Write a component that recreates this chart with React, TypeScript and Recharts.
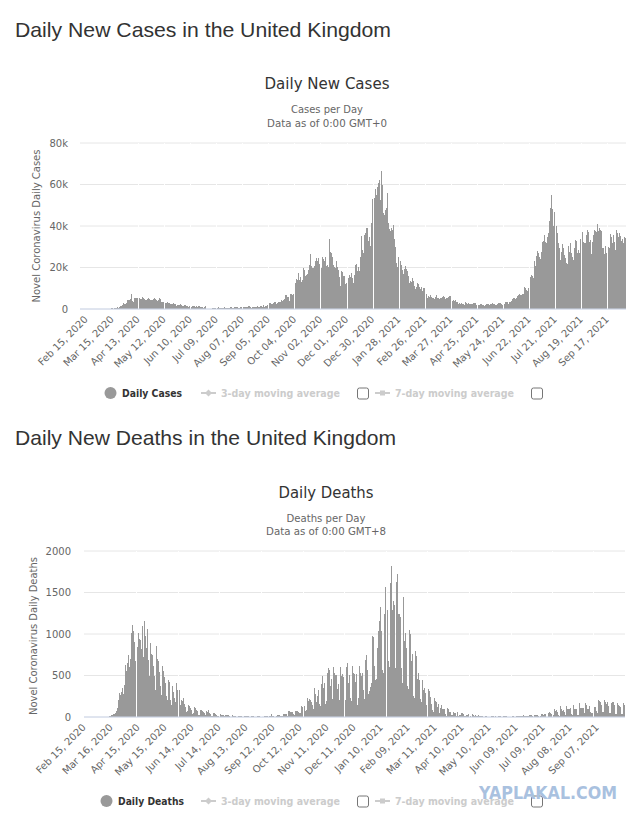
import React from "react";
import { BarChart, Bar, XAxis, YAxis, CartesianGrid, ReferenceLine } from "recharts";

const MONTHS = ["Jan", "Feb", "Mar", "Apr", "May", "Jun", "Jul", "Aug", "Sep", "Oct", "Nov", "Dec"];
const FIRST_DAY_UTC = Date.UTC(2020, 1, 15);

// Daily new cases (thousands), Feb 15 2020 .. Oct 07 2021, one line per month
const newCasesK: number[] = [
  0, 0, 0, 0, 0, 0, 0, 0, 0, 0, 0, 0, 0, 0, 0,
  0.01, 0, 0.01, 0.03, 0.03, 0.05, 0.05, 0.07, 0.04, 0.06, 0.08, 0.13, 0.21, 0.34, 0.25, 0.15, 0.41, 0.68, 0.64, 0.71, 1.0, 0.67, 0.97, 1.4, 1.5, 2.1, 2.9, 2.5, 2.4, 2.6, 3.0,
  4.3, 4.2, 4.5, 4.8, 7.2, 3.8, 3.6, 5.5, 4.3, 5.2, 5.2, 5.3, 4.3, 5.3, 4.6, 4.6, 5.6, 5.5, 5.9, 4.7, 4.3, 4.5, 4.6, 5.4, 4.9, 4.5, 4.3, 4.0, 4.1, 5.0,
  5.5, 4.8, 4.3, 4.0, 4.2, 5.2, 4.6, 4.2, 3.6, 3.5, 3.3, 3.0, 2.8, 3.0, 3.2, 3.1, 3.0, 2.5, 2.3, 2.4, 2.5, 2.9, 2.6, 2.2, 1.6, 1.9, 1.9, 1.8, 2.0, 2.2, 1.8,
  1.5, 1.6, 1.8, 1.7, 1.6, 1.5, 1.3, 1.2, 1.4, 1.0, 1.2, 1.5, 1.4, 1.5, 1.1, 1.3, 1.1, 1.2, 1.3, 1.3, 1.2, 1.0, 0.9, 0.7, 1.1, 1.4, 0.9, 0, 0, 0,
  0, 0, 0, 0.6, 0.5, 0.6, 0.4, 0.6, 0.6, 0.5, 0.8, 0.6, 0.5, 0.5, 0.5, 0.6, 0.7, 0.8, 0.6, 0.6, 0.4, 0.6, 0.7, 0.8, 0.8, 0.7, 0.7, 0.6, 0.8, 0.9, 0.8,
  0.8, 0.7, 0.7, 0.9, 0.9, 0.9, 0.9, 0.9, 1.1, 0.8, 1.1, 1.0, 1.4, 1.4, 1.0, 1.0, 0.7, 1.1, 0.8, 1.2, 1.0, 1.0, 1.3, 0.8, 1.2, 1.0, 1.3, 1.3, 1.1, 1.7, 1.0,
  1.3, 1.3, 1.7, 1.8, 1.9, 2.9, 3.0, 2.5, 2.5, 2.7, 3.5, 3.5, 3.5, 2.6, 3.1, 3.4, 3.4, 3.4, 4.3, 3.9, 4.4, 4.9, 6.2, 6.6, 6.9, 6.0, 5.7, 4.0, 7.1, 7.1,
  6.9, 7.0, 12.9, 16.0, 12.6, 14.5, 14.2, 17.5, 13.9, 15.2, 12.9, 14.0, 17.2, 19.7, 19.0, 15.7, 16.2, 16.9, 18.8, 21.3, 26.7, 20.5, 23.0, 19.8, 19.8, 20.9, 22.9, 24.7, 23.1, 24.4, 21.9,
  23.3, 19.0, 20.0, 25.2, 24.1, 23.3, 25.0, 20.6, 21.4, 20.4, 23.0, 33.5, 27.3, 26.9, 25.0, 21.4, 20.1, 19.6, 22.9, 20.3, 19.9, 18.7, 15.5, 11.3, 18.2, 17.6, 16.0, 15.9, 12.2, 12.3,
  13.4, 16.2, 14.9, 16.3, 15.5, 17.3, 14.7, 12.3, 16.6, 21.0, 21.7, 21.5, 18.4, 20.3, 18.5, 25.2, 35.4, 28.5, 27.1, 35.9, 33.4, 36.8, 39.2, 39.0, 32.7, 34.7, 30.5, 41.4, 53.1, 50.0, 55.9,
  53.3, 57.7, 55.0, 58.8, 60.9, 62.3, 52.6, 66.5, 59.9, 54.9, 46.2, 45.5, 47.5, 48.7, 55.8, 41.3, 38.6, 37.5, 33.4, 38.9, 37.9, 40.3, 33.6, 30.0, 22.2, 20.1, 25.3, 28.7, 29.1, 23.3, 21.1,
  18.6, 16.8, 19.2, 20.6, 19.1, 18.3, 15.8, 14.1, 12.4, 13.5, 13.0, 15.1, 13.3, 11.0, 9.8, 10.6, 12.7, 12.1, 12.0, 10.4, 9.8, 10.6, 8.5, 9.9, 10.0, 8.5, 7.4, 6.0,
  5.5, 6.4, 5.8, 6.6, 6.0, 5.2, 5.2, 4.7, 5.8, 5.9, 6.8, 5.5, 5.5, 4.6, 5.1, 5.3, 5.8, 6.3, 6.0, 5.6, 4.8, 5.3, 5.4, 5.6, 6.4, 6.2, 4.7, 3.9, 4.7, 4.1, 4.0,
  4.5, 3.4, 3.4, 2.3, 2.8, 2.4, 2.8, 3.0, 2.6, 2.5, 1.7, 3.6, 3.0, 2.5, 2.7, 2.6, 2.2, 1.9, 2.5, 2.4, 2.7, 2.7, 2.7, 2.0, 1.7, 2.1, 1.9, 2.2, 2.4, 2.4,
  1.9, 1.7, 1.6, 2.0, 2.3, 2.6, 2.5, 2.0, 1.8, 2.4, 2.5, 2.7, 2.3, 2.2, 1.9, 2.0, 2.4, 2.7, 2.9, 2.7, 2.8, 2.2, 2.0, 2.4, 2.5, 3.2, 3.5, 3.4, 3.2, 2.5, 3.4,
  3.2, 4.0, 4.8, 5.5, 5.2, 4.8, 5.0, 5.4, 6.5, 6.6, 7.2, 6.9, 6.8, 7.0, 7.4, 8.5, 10.5, 10.0, 9.0, 8.8, 10.2, 11.3, 15.5, 16.3, 15.8, 18.3, 14.9, 22.9, 20.5, 25.6,
  28.0, 27.1, 24.9, 24.2, 27.3, 28.8, 32.5, 32.6, 35.7, 32.4, 31.8, 34.5, 36.7, 42.3, 48.6, 51.9, 54.7, 48.2, 40.0, 46.6, 44.1, 39.9, 36.4, 31.8, 29.2, 25.0, 23.5, 27.7, 31.1, 29.6, 26.1,
  24.5, 22.0, 21.7, 29.3, 30.2, 27.4, 31.8, 26.8, 25.2, 23.5, 29.6, 33.1, 32.7, 29.5, 26.8, 28.4, 26.9, 33.9, 36.6, 37.3, 32.1, 31.9, 31.6, 30.8, 35.8, 38.0, 37.3, 32.4, 33.2, 26.5, 32.2,
  35.7, 38.2, 42.1, 37.6, 37.0, 41.2, 37.5, 39.0, 38.0, 37.6, 29.5, 29.2, 30.8, 26.6, 30.6, 26.9, 32.7, 30.1, 29.6, 36.1, 34.5, 31.6, 36.7, 35.6, 32.4, 28.2, 38.0, 36.7, 34.5, 36.5,
  35.1, 33.0, 31.0, 33.9, 32.0, 34.5, 34.0,
];

// Daily new deaths, same days
const newDeaths: number[] = [
  0, 0, 0, 0, 0, 0, 0, 0, 0, 0, 0, 0, 0, 0, 0,
  0, 0, 0, 0, 1, 1, 0, 1, 2, 1, 3, 2, 1, 10, 14, 20, 25, 33, 40, 48, 56, 70, 110, 210, 290, 260, 300, 350, 280, 380, 560,
  630, 560, 650, 750, 600, 700, 1015, 1110, 1040, 1135, 900, 670, 690, 840, 1015, 935, 930, 815, 1095, 490, 720, 1155, 975, 830, 1055, 690, 500, 895, 760, 610,
  750, 620, 490, 330, 855, 700, 670, 540, 370, 280, 260, 610, 550, 480, 410, 250, 200, 450, 420, 310, 210, 150, 370, 300, 230, 180, 410, 330, 250, 250, 330,
  150, 210, 190, 230, 160, 120, 60, 70, 170, 150, 130, 110, 90, 40, 45, 120, 110, 90, 80, 70, 30, 20, 85, 90, 70, 65, 50, 20, 15, 70,
  60, 80, 50, 40, 15, 10, 50, 45, 40, 35, 30, 10, 10, 30, 35, 25, 25, 20, 8, 8, 25, 30, 20, 20, 15, 5, 5, 25, 20, 18, 15,
  10, 5, 3, 15, 18, 15, 12, 10, 4, 2, 15, 18, 12, 10, 8, 3, 1, 12, 14, 10, 8, 6, 2, 1, 10, 12, 10, 8, 5, 2, 1,
  3, 10, 12, 10, 8, 2, 2, 9, 8, 40, 14, 10, 6, 5, 10, 20, 20, 22, 27, 18, 10, 11, 37, 37, 40, 34, 17, 13, 71, 70,
  66, 60, 55, 33, 19, 76, 70, 77, 70, 65, 45, 50, 135, 120, 130, 130, 150, 67, 80, 230, 190, 220, 210, 175, 150, 100, 300, 350, 280, 180, 250,
  326, 162, 136, 397, 492, 378, 355, 413, 156, 194, 532, 595, 563, 376, 462, 168, 213, 598, 529, 501, 511, 341, 398, 206, 608, 696, 498, 521, 479, 215,
  205, 603, 648, 414, 504, 397, 231, 189, 616, 533, 516, 424, 519, 144, 232, 506, 612, 532, 489, 534, 326, 215, 691, 744, 570, 300, 280, 316, 357, 414, 981,
  964, 613, 445, 454, 407, 830, 1041, 1162, 1325, 1035, 563, 529, 1243, 1564, 1248, 1280, 1295, 671, 599, 1610, 1820, 1290, 1401, 1348, 610, 592, 1631, 1725, 1239, 1245, 1200,
  587, 406, 1449, 1322, 915, 1014, 828, 373, 333, 1052, 1001, 678, 758, 621, 258, 230, 799, 738, 454, 533, 445, 215, 178, 548, 442, 323, 345, 290,
  144, 104, 343, 315, 242, 236, 158, 82, 65, 231, 190, 175, 121, 155, 52, 64, 110, 141, 95, 101, 96, 33, 17, 112, 98, 70, 63, 58, 19, 23, 56,
  43, 52, 10, 58, 10, 9, 26, 23, 45, 53, 34, 7, 13, 23, 22, 30, 34, 32, 10, 4, 33, 22, 18, 29, 32, 12, 17, 29, 17, 15,
  11, 15, 1, 1, 4, 14, 13, 5, 6, 2, 5, 11, 9, 17, 7, 4, 7, 5, 3, 12, 9, 7, 3, 0, 5, 12, 11, 10, 8, 0, 6,
  6, 0, 12, 10, 11, 12, 1, 5, 13, 9, 13, 12, 8, 3, 9, 11, 19, 14, 11, 14, 12, 14, 19, 18, 21, 22, 14, 6, 23, 20,
  20, 22, 18, 15, 5, 9, 37, 37, 26, 35, 34, 6, 6, 50, 49, 63, 49, 41, 25, 19, 96, 73, 84, 64, 65, 28, 14, 131, 91, 68, 85,
  65, 24, 24, 138, 92, 97, 92, 103, 39, 26, 146, 94, 93, 94, 93, 26, 28, 170, 111, 113, 114, 104, 40, 49, 174, 147, 100, 100, 133, 61, 48,
  50, 207, 158, 121, 121, 68, 45, 209, 191, 178, 147, 156, 61, 56, 201, 185, 158, 178, 128, 49, 49, 203, 167, 182, 180, 150, 40, 37, 167, 150,
  137, 127, 121, 33, 40, 166, 143,
];

const casesTickLabels = [
  "Feb 15, 2020", "Mar 15, 2020", "Apr 13, 2020", "May 12, 2020", "Jun 10, 2020", "Jul 09, 2020", "Aug 07, 2020",
  "Sep 05, 2020", "Oct 04, 2020", "Nov 02, 2020", "Dec 01, 2020", "Dec 30, 2020", "Jan 28, 2021", "Feb 26, 2021",
  "Mar 27, 2021", "Apr 25, 2021", "May 24, 2021", "Jun 22, 2021", "Jul 21, 2021", "Aug 19, 2021", "Sep 17, 2021",
];
const deathsTickLabels = [
  "Feb 15, 2020", "Mar 16, 2020", "Apr 15, 2020", "May 15, 2020", "Jun 14, 2020", "Jul 14, 2020", "Aug 13, 2020",
  "Sep 12, 2020", "Oct 12, 2020", "Nov 11, 2020", "Dec 11, 2020", "Jan 10, 2021", "Feb 09, 2021", "Mar 11, 2021",
  "Apr 10, 2021", "May 10, 2021", "Jun 09, 2021", "Jul 09, 2021", "Aug 08, 2021", "Sep 07, 2021",
];
const casesYTicks = [0, 20, 40, 60, 80];
const deathsYTicks = [0, 500, 1000, 1500, 2000];

function dayLabel(i: number): string {
  const d = new Date(FIRST_DAY_UTC + i * 86400000);
  return `${MONTHS[d.getUTCMonth()]} ${String(d.getUTCDate()).padStart(2, "0")}, ${d.getUTCFullYear()}`;
}
const dayLabels = newCasesK.map((_, i) => dayLabel(i));
const casesRows = dayLabels.map((day, i) => ({ day, cases: newCasesK[i] }));
const deathsRows = dayLabels.map((day, i) => ({ day, deaths: newDeaths[i] }));

// light seams visible through the bars of the reference picture
const casesSeams = casesTickLabels.slice(2);
const deathsSeams = [58, 104, 150, 197, 243, 289, 335, 381, 428, 474, 520, 566].map((i) => dayLabels[i]);

const HC_FONT = '"DejaVu Sans", "Lucida Grande", Verdana, sans-serif';
const PAGE_FONT = '"Liberation Sans", Arial, Helvetica, sans-serif';
const BAR = "#999999";

const RotatedTick = (props: any) => {
  const { x, y, payload } = props;
  const px = x + 2;
  const py = y + 3;
  return (
    <text x={px} y={py} transform={`rotate(-45 ${px} ${py})`} textAnchor="end" fontFamily={HC_FONT} fontSize={10} fill="#666666">
      {payload.value}
    </text>
  );
};

const Legend = ({ y, label, labelW, dx }: { y: number; label: string; labelW: number; dx: number }) => (
  <g>
    <circle cx={110.5 - dx} cy={y} r={6} fill={BAR} />
    <text x={122 - dx} y={y + 3.5} fontFamily={HC_FONT} fontSize={10} fontWeight="bold" fill="#333333" textLength={labelW} lengthAdjust="spacingAndGlyphs">
      {label}
    </text>
    <line x1={201} x2={216} y1={y} y2={y} stroke="#cccccc" strokeWidth={2} />
    <path d={`M208.5 ${y - 3.5} L212 ${y} L208.5 ${y + 3.5} L205 ${y} Z`} fill="#cccccc" />
    <text x={221} y={y + 3.5} fontFamily={HC_FONT} fontSize={10} fontWeight="bold" fill="#cccccc" textLength={119} lengthAdjust="spacingAndGlyphs">
      3-day moving average
    </text>
    <rect x={357.5} y={y - 5} width={11} height={11} rx={2} fill="#ffffff" stroke="#767676" />
    <line x1={375} x2={390} y1={y} y2={y} stroke="#cccccc" strokeWidth={2} />
    <rect x={380} y={y - 2.5} width={5} height={5} fill="#cccccc" />
    <text x={395} y={y + 3.5} fontFamily={HC_FONT} fontSize={10} fontWeight="bold" fill="#cccccc" textLength={119} lengthAdjust="spacingAndGlyphs">
      7-day moving average
    </text>
    <rect x={531.5} y={y - 5} width={11} height={11} rx={2} fill="#ffffff" stroke="#767676" />
  </g>
);

const crispCss = `
.recharts-bar-rectangle path, .recharts-bar-rectangle rect { shape-rendering: crispEdges; }
.recharts-reference-line line { shape-rendering: crispEdges; }
`;

export default function App() {
  return (
    <div style={{ position: "absolute", left: 0, top: 0, width: 640, height: 824, background: "#ffffff", overflow: "hidden" }}>
      <style>{crispCss}</style>
      <div style={{ position: "absolute", left: 0, top: 0 }}>
        <BarChart width={640} height={400} data={casesRows} margin={{ top: 143, right: 14, bottom: 0, left: 0 }} barCategoryGap={0} barGap={0}>
          <CartesianGrid vertical={false} stroke="#e6e6e6" />
          <XAxis
            dataKey="day"
            ticks={casesTickLabels}
            interval={0}
            tick={<RotatedTick />}
            tickLine={false}
            axisLine={{ stroke: "#ccd6eb" }}
            height={91}
            padding={{ left: 6, right: 0 }}
          />
          <YAxis
            width={80}
            domain={[0, 80]}
            ticks={casesYTicks}
            interval={0}
            tickFormatter={(v: number) => (v === 0 ? "0" : `${v}k`)}
            axisLine={false}
            tickLine={false}
            tickMargin={6}
            tick={{ fontSize: 10, fill: "#666666", fontFamily: HC_FONT }}
          />
          <Bar dataKey="cases" fill={BAR} isAnimationActive={false} />
          {casesSeams.map((d) => (
            <ReferenceLine key={d} x={d} stroke="#ffffff" strokeWidth={1} />
          ))}
        </BarChart>
      </div>
      <div style={{ position: "absolute", left: 0, top: 410 }}>
        <BarChart width={640} height={390} data={deathsRows} margin={{ top: 141, right: 15, bottom: 0, left: 0 }} barCategoryGap={0} barGap={0}>
          <CartesianGrid vertical={false} stroke="#e6e6e6" />
          <XAxis
            dataKey="day"
            ticks={deathsTickLabels}
            interval={0}
            tick={<RotatedTick />}
            tickLine={false}
            axisLine={{ stroke: "#ccd6eb" }}
            height={83}
          />
          <YAxis
            width={84}
            domain={[0, 2000]}
            ticks={deathsYTicks}
            interval={0}
            axisLine={false}
            tickLine={false}
            tickMargin={7}
            tick={{ fontSize: 10, fill: "#666666", fontFamily: HC_FONT }}
          />
          <Bar dataKey="deaths" fill={BAR} isAnimationActive={false} />
          {deathsSeams.map((d) => (
            <ReferenceLine key={d} x={d} stroke="#ffffff" strokeWidth={1} />
          ))}
        </BarChart>
      </div>
      <svg width={640} height={824} style={{ position: "absolute", left: 0, top: 0, pointerEvents: "none" }}>
        <text x={15} y={37} fontFamily={PAGE_FONT} fontSize={21} fill="#333333" textLength={376} lengthAdjust="spacingAndGlyphs">
          Daily New Cases in the United Kingdom
        </text>
        <text x={327} y={89} textAnchor="middle" fontFamily={HC_FONT} fontSize={15} fill="#333333" textLength={125} lengthAdjust="spacingAndGlyphs">
          Daily New Cases
        </text>
        <text x={327} y={113} textAnchor="middle" fontFamily={HC_FONT} fontSize={10} fill="#666666" textLength={72} lengthAdjust="spacingAndGlyphs">
          Cases per Day
        </text>
        <text x={327} y={127} textAnchor="middle" fontFamily={HC_FONT} fontSize={10} fill="#666666" textLength={120} lengthAdjust="spacingAndGlyphs">
          Data as of 0:00 GMT+0
        </text>
        <text transform="translate(40 226) rotate(-90)" textAnchor="middle" fontFamily={HC_FONT} fontSize={10} fill="#666666" textLength={153} lengthAdjust="spacingAndGlyphs">
          Novel Coronavirus Daily Cases
        </text>
        <Legend y={393} label="Daily Cases" labelW={60} dx={0} />

        <text x={15} y={445} fontFamily={PAGE_FONT} fontSize={21} fill="#333333" textLength={381} lengthAdjust="spacingAndGlyphs">
          Daily New Deaths in the United Kingdom
        </text>
        <text x={326} y={498} textAnchor="middle" fontFamily={HC_FONT} fontSize={15} fill="#333333" textLength={95} lengthAdjust="spacingAndGlyphs">
          Daily Deaths
        </text>
        <text x={326} y={522} textAnchor="middle" fontFamily={HC_FONT} fontSize={10} fill="#666666" textLength={79} lengthAdjust="spacingAndGlyphs">
          Deaths per Day
        </text>
        <text x={326} y={535} textAnchor="middle" fontFamily={HC_FONT} fontSize={10} fill="#666666" textLength={120} lengthAdjust="spacingAndGlyphs">
          Data as of 0:00 GMT+8
        </text>
        <text transform="translate(37 636) rotate(-90)" textAnchor="middle" fontFamily={HC_FONT} fontSize={10} fill="#666666" textLength={158} lengthAdjust="spacingAndGlyphs">
          Novel Coronavirus Daily Deaths
        </text>
        <Legend y={801} label="Daily Deaths" labelW={66} dx={4} />
        <text x={479} y={799} fontFamily={HC_FONT} fontSize={17} fontWeight="bold" fill="#a9c1df" textLength={138} lengthAdjust="spacingAndGlyphs">
          YAPLAKAL.COM
        </text>
      </svg>
    </div>
  );
}
